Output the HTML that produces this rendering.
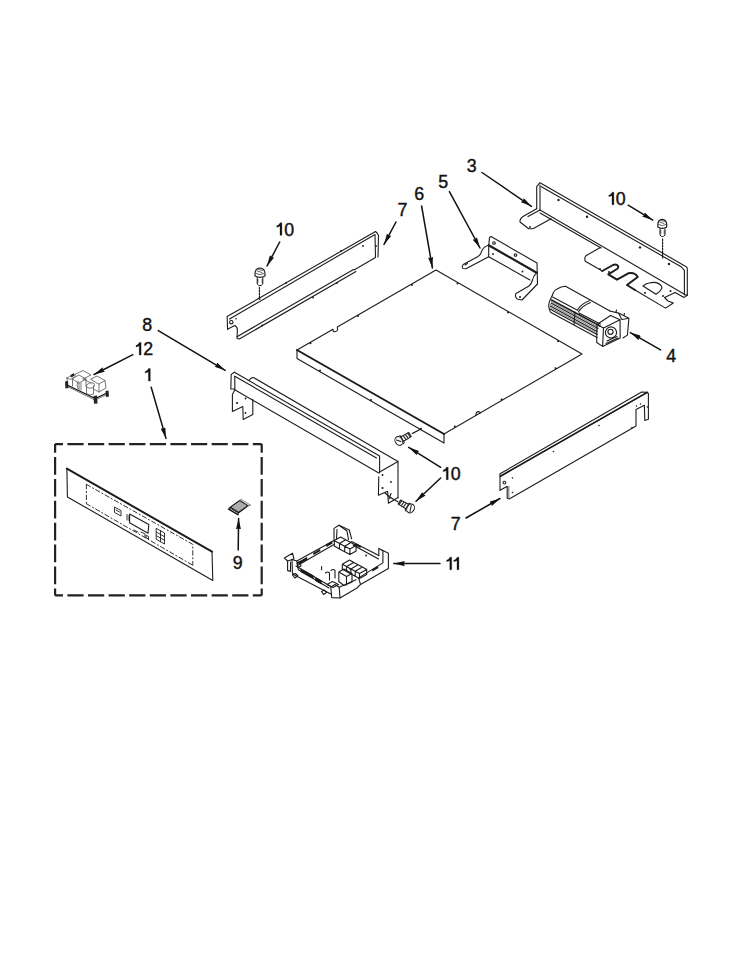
<!DOCTYPE html>
<html><head><meta charset="utf-8">
<style>
html,body{margin:0;padding:0;background:#fff;width:750px;height:970px;overflow:hidden}
svg{display:block}
text{font-family:"Liberation Sans",sans-serif;font-size:17.8px;fill:#111;stroke:#111;stroke-width:0.4px;stroke-linejoin:round;letter-spacing:-0.6px}
</style></head>
<body>
<svg width="750" height="970" viewBox="0 0 750 970">
<defs>
<marker id="ah" viewBox="0 0 11 5" refX="11" refY="2.5" markerWidth="11" markerHeight="5" markerUnits="userSpaceOnUse" orient="auto">
<path d="M0,0 L11,2.5 L0,5 L1,2.5 z" fill="#111" stroke="none"/>
</marker>
</defs>
<g fill="none" stroke="#1c1c1c" stroke-width="1.1" stroke-linejoin="round" stroke-linecap="round">

<!-- ============ PART 6 : panel ============ -->
<g id="p6">
<path d="M297,350 L333,329.3 L333.3,331.2 Q335.5,332.8 337.6,330 L337.3,327 L436,270 L582,354 L444,434"/>
<path d="M297,350 L444,434" stroke-width="2"/>
<path d="M297,350 L297,358.5 L444,443 L444,434"/>
<path d="M476,415.3 L476.2,412.8 Q478,410.8 480,412.3 L480.2,413"/>
</g>
<g id="p6dots" fill="#1c1c1c" stroke="none"><circle cx="310.5" cy="343.3" r="1"/><circle cx="358.0" cy="316.0" r="1"/><circle cx="412.0" cy="284.9" r="1"/><circle cx="457.5" cy="283.5" r="1"/><circle cx="508.0" cy="312.5" r="1"/><circle cx="558.0" cy="341.3" r="1"/><circle cx="555.6" cy="368.2" r="1"/><circle cx="501.6" cy="399.5" r="1"/><circle cx="454.8" cy="426.6" r="1"/><circle cx="320.0" cy="370.6" r="1"/><circle cx="371.0" cy="399.9" r="1"/><circle cx="421.0" cy="428.7" r="1"/></g>

<!-- ============ PART 3 : bracket ============ -->
<g id="p3">
<path d="M536.7,208.7 L536.7,186.7 L540,182.7 L686.2,266.7 L687.3,268 L687.3,295.3 L684.4,294.6"/>
<path d="M540,185 L540,210"/>
<path d="M541,186.5 L681.5,267 L684.4,270.4 L684.4,294.6"/>
<path d="M540,210 L684.4,294.2"/>
<path d="M540,213 L601,248"/>
<path d="M536.7,208.7 L523,216.5 Q519.5,219 520,222 L528.7,228.7 L533,228.7 L551,218.7"/>
<path d="M540,210 L528,216.5"/>
<path d="M600.7,247.3 L586,255.7 Q584,258 585.3,261.3 L602.3,271"/>
<path d="M602.3,271 L613,265 Q617,263.5 618.3,266.5 Q618.5,268 617,269 L608.3,274.3 L617,279.7 L628.3,273.3 Q635,272 637.7,277 L627,285 L635,290" stroke-width="2"/>
<path d="M635,290 L665.5,308.1 L673.3,303 L668,301 L664.5,297.5 L675.2,292.4 L684,297.4 L687.3,295.3"/>
<path d="M643,286 Q646,283.5 649,283 Q654,282 656,282.6 Q661,284 662,287.3 Q661,291 656,294.3 Z"/>
</g>
<g fill="#1c1c1c" stroke="none">
<circle cx="558.5" cy="200" r="1.2"/><circle cx="587" cy="216.7" r="1.2"/><circle cx="640" cy="247.4" r="1.2"/><circle cx="669" cy="264" r="1.2"/>
<circle cx="530" cy="227" r="0.9"/><circle cx="609" cy="272" r="1"/><circle cx="600" cy="269" r="0.9"/><circle cx="645" cy="293" r="1"/><circle cx="663" cy="296" r="1"/><circle cx="670.5" cy="291" r="1"/>
</g>

<!-- ============ PART 5 : bracket ============ -->
<g id="p5">
<path d="M488.8,245 L489.5,237.5 L491,236.5 L537,263 L537.5,284"/>
<path d="M488.7,245.3 L536.7,272.7" stroke-width="2.2"/>
<path d="M488.7,245.3 L488.7,256.7 L530,280"/>
<path d="M488.7,245.3 Q483.5,246.5 481.5,251.5 Q481,254.5 478,256.5 L463.2,264.5 Q461.5,266.5 463,268.5 L466,268.8 L488.7,256.7"/>
<path d="M465,265 L467.5,263.5"/>
<path d="M536.7,272.7 Q533,276.5 532.5,280 Q531.5,284 529,286 L516,293.5 Q514.5,296 517,299 L522,300 L537.5,284"/>
<circle cx="494" cy="243" r="1.3"/><circle cx="515.5" cy="255" r="1.3"/>
</g>
<g fill="#1c1c1c" stroke="none"><circle cx="493" cy="254" r="0.9"/><circle cx="522.5" cy="271.5" r="0.9"/><circle cx="520" cy="297" r="1"/></g>

<!-- ============ PART 4 : blower ============ -->
<g id="p4">
<path d="M552.3,295.4 Q554,290 557.5,288.8 Q561,286.5 565.5,286.2 L610,311"/>
<path d="M552.3,295.4 Q548.5,302 548.7,306 Q549,310.5 550.9,312.6 L597,337.5"/>
<path d="M552.6,297 L577.5,310.2 Q580.5,304 589.3,300.7"/>
<path d="M578.5,311.8 Q582,306 590.5,302.5"/>
<path d="M579,313.1 L600.3,324.1"/>
<path d="M551.5,300 L600,326" stroke-width="1.5"/>
<path d="M551,303 L598,328.5 M550.3,306 L597,331.5 M549.8,309 L597,334.5"/>
<path d="M551,301.5 L598,327 M550.5,304.5 L597.5,330 M550,307.5 L597,333" stroke="#666" stroke-width="0.8"/>
<path d="M575,312 L574,324.5"/>
<path d="M597,324.5 L610.5,315.5 L620,319.8 L603.5,328 Z"/>
<path d="M597,324.5 L596.7,342.5 L602.6,346.4 L620.2,338.1 L620,319.8"/>
<path d="M603.5,328 L602.6,346.4"/>
<path d="M609.8,311 L618.6,313.1 L628.9,318.3 L627.4,335.1 L623,338 M618.6,313.1 L621.5,319 M622,319.5 L628.9,318.3"/>
<path d="M616,312 L616.5,310 M624,315.5 L624.5,313.5"/>
<circle cx="611" cy="332.5" r="5.6"/>
<circle cx="610.5" cy="331.8" r="2.6"/>
<path d="M606,343.5 L618,338 M607,341 L617,336.5"/>
</g>

<!-- ============ PART 7 : top-left rail ============ -->
<g id="p7a">
<path d="M227.6,329.2 L227.1,316.6 L375.5,231.5 L377.5,233.5 L378.5,235.5 L378,257"/>
<path d="M229.5,319 L375,234.5 L375.5,257.5 L354,270"/>
<path d="M227.6,329.2 L234.6,325.5 Q237.4,326.5 237.4,330 L237,338.5 L239.3,339 L356,271.5"/>
<path d="M237,336.7 L353.5,269.5"/>
<circle cx="231.3" cy="322.2" r="1.7"/>
</g>
<g fill="#1c1c1c" stroke="none"><circle cx="363" cy="246" r="0.9"/><circle cx="376" cy="246" r="0.9"/><circle cx="286" cy="283" r="0.9"/><circle cx="341" cy="251" r="0.9"/><circle cx="236" cy="318.7" r="0.8"/><circle cx="259.6" cy="299" r="0.9"/><circle cx="313" cy="297.6" r="0.9"/><circle cx="337" cy="283" r="0.9"/><circle cx="262" cy="325.5" r="0.9"/></g>

<!-- ============ PART 8 : front rail ============ -->
<g id="p8">
<path d="M234.4,372.2 L231.2,374.4 L230.8,389 L234.4,389"/>
<path d="M234.4,372.2 L379.6,456 L379.6,472.8"/>
<path d="M234.8,376.2 L234.8,389.8 L378.8,473"/>
<path d="M234.8,376.2 L376.5,458"/>
<path d="M249.2,380.2 Q251,377 254,377.8 L398,461.6 L398,497.6"/>
<path d="M379.6,472 L398,461.6"/>
<path d="M234.8,389.8 L232.4,394.6 L232.4,411.4 L242.8,406.6 L243.2,419.4 L252.8,414.6 L252.8,399.4"/>
<path d="M378.8,476.8 L378.4,495.2 L387.6,491.2 L388.4,503.2 L398,497.6"/>
</g>
<g fill="#1c1c1c" stroke="none"><circle cx="237" cy="403" r="1.1"/><circle cx="245.5" cy="398.5" r="0.9"/><circle cx="245.5" cy="413" r="0.9"/><circle cx="382.5" cy="488" r="1.1"/><circle cx="391" cy="482" r="0.9"/><circle cx="382.5" cy="475" r="1"/></g>

<!-- ============ PART 7 : right rail ============ -->
<g id="p7b">
<path d="M500,490.2 L500,473.8 L641.6,392 L647.2,392.4"/>
<path d="M500.4,476.2 L647.2,392.4 L648.4,393.5 L648.4,419.2 L644.8,420.4 L644.4,405.2 L636,409.6 L636,426 L635.2,426.4 L509.2,499 L507.2,498.2 L507.2,486.2 L506,487 L500,490.2" />
<path d="M500.4,476.2 L647.2,392.4" stroke-width="1.6"/>
<path d="M508.8,486.5 L508.8,498" stroke="#777"/>
<circle cx="504.4" cy="482.6" r="1.4"/>
</g>
<g fill="#1c1c1c" stroke="none"><circle cx="512.5" cy="478" r="0.8"/><circle cx="512.5" cy="492.5" r="0.8"/><circle cx="553.5" cy="451.5" r="0.8"/><circle cx="599" cy="425.5" r="0.8"/><circle cx="636.5" cy="406" r="0.8"/><circle cx="640.5" cy="404" r="0.8"/><circle cx="647.5" cy="407" r="0.8"/><circle cx="632" cy="427.5" r="0.8"/></g>

<!-- ============ PART 11 : control box ============ -->
<g id="p11">
<path d="M284.4,558 L292.5,553.2 L294,559 L287.6,561 Z"/>
<path d="M287.6,561 L287.6,570.6 L290.4,571.4 L290.6,562"/>
<path d="M292,559.4 L296.8,561 L298.4,569.8 L329,588"/>
<path d="M292,559.4 L292.4,573 L294.4,575 L330.8,594"/>
<path d="M296,566 L330,586"/>
<path d="M292.4,574.8 L295.5,573.5 L297.8,575.5 L295,578 Z"/>
<path d="M321.5,591.5 L324.5,590 L326.5,592.5 L323.5,594.5 Z"/>
<path d="M296.8,561 L334,540.4"/>
<path d="M298.4,565 L334,544.5"/>
<path d="M334,540 L334,528.4 L339,525.2 L349.3,530 L351.6,538.8"/>
<path d="M336.5,539 L337,529.5 M347,531 L348.5,539.5 M339,525.2 L347,531"/>
<path d="M340.5,537.0 L345.7,539.8 L339.5,543.4 L334.3,540.6 Z M334.3,540.6 L334.3,546.1 L339.5,548.9 L339.5,543.4 M345.7,539.8 L350.9,542.6 L344.7,546.2 L339.5,543.4 Z M339.5,543.4 L339.5,548.9 L344.7,551.7 L344.7,546.2 M350.9,542.6 L356.1,545.4 L349.9,549.0 L344.7,546.2 Z M344.7,546.2 L344.7,551.7 L349.9,554.5 L349.9,549.0 M356.1,545.4 L356.1,550.9 L349.9,554.5"/>
<path d="M351.6,541.5 L378.8,555.6"/>
<path d="M353,545 L378.5,559"/>
<path d="M378.8,555.6 L378.8,548.4 L388.4,553.2 L388.4,568.5 L360.5,584.4 L358.6,577.9 L382.9,562.9 L382.9,551 M378.8,548.4 L382.9,551"/>
<path d="M356,579.8 L339.2,587.3 L340,598 L357,588 L360.5,584.4"/>
<path d="M330.8,587.3 L331.7,597.6 L340,598 M330.8,587.3 L335,584.5 L339.2,587.3"/>
<path d="M349.5,560.0 L353.8,562.4 L346.6,566.6 L342.3,564.2 Z M342.3,564.2 L342.3,569.2 L346.6,571.6 L346.6,566.6 M353.8,562.4 L358.1,564.7 L350.9,568.9 L346.6,566.6 Z M346.6,566.6 L346.6,571.6 L350.9,573.9 L350.9,568.9 M358.1,564.7 L362.4,567.1 L355.2,571.3 L350.9,568.9 Z M350.9,568.9 L350.9,573.9 L355.2,576.3 L355.2,571.3 M362.4,567.0 L366.7,569.4 L359.5,573.6 L355.2,571.2 Z M355.2,571.2 L355.2,576.2 L359.5,578.6 L359.5,573.6 M366.7,569.4 L366.7,574.4 L359.5,578.6"/>
<path d="M338.8,572 L344,569 L352,573.5 L352,582 L344,585.5 L338.8,581.5 Z M338.8,572 L346.5,576.5 L352,573.5 M346.5,576.5 L346.5,585"/>
<path d="M321.6,566.6 L321.6,569.8 M325.5,573 Q327.5,571 329.5,573 L329.5,580 M331,570.5 Q333,568.5 335,570.5 L335,578"/>
<path d="M327,584.5 L332.5,581.5 L338.5,584.5 L333,587.5 Z"/>
<path d="M297,563 L300,561.5 L301,566 L298,567.5 Z"/>
</g>
<g fill="#1a1a1a" stroke="none">
<path d="M300.5,568.5 L313.6,575.5 L313.6,579 L300.5,572 Z"/>
<path d="M315.2,577 L321.6,580.5 L321.6,584.5 L315.2,581 Z"/>
<path d="M298,562 L307,557 L307.5,559.5 L298.5,564.5 Z"/>
<path d="M313,553 L320,549 L320.5,551 L313.5,555 Z"/>
<path d="M326,544.5 L332,541 L332.5,543.5 L326.5,547 Z"/>
<path d="M355,543 L361,546 L360.5,548 L354.5,545 Z"/>
<path d="M372,569.5 L378,566 L378.5,568 L372.5,571.5 Z"/>
<circle cx="366" cy="555.5" r="0.9"/><circle cx="350" cy="569" r="0.8"/>
</g>

<!-- ============ PART 12 ============ -->
<g id="p12" stroke="#555" stroke-width="0.8">
<path d="M66,384.5 L95.2,398.5 L107,393" stroke-width="1.3" stroke="#111"/>
<path d="M67.5,386.5 L95,400 L106,395"/>
<path d="M67,378 Q69,375.5 72.5,376 Q74,377 72.5,379 Q69.5,380 67,378 Z M67,378 L67.5,385 M72.5,379 L72.5,386"/>
<path d="M72.5,378.5 L79,375 L86,379 L79,383 Z M79,383 L79,390 M86,379 L86,386"/>
<path d="M75,374.5 L83,370.5 L91,375 L83,379 M75,374.5 L75,377"/>
<path d="M78,381 Q76,385 78,389 M81,383 L81,390"/>
<path d="M86.5,385 Q89.5,381.5 93.5,383 Q95.5,385 93.5,387.5 Q90,389.5 86.5,387 Z M86.5,386 L86.5,393.5 Q90,396.5 93.5,394 L93.5,386"/>
<path d="M91,379 L97,376 L105,380.5 L99,384 Z M105,380.5 L106,388 L99,392 L93.5,389 M99,384 L99,392"/>
<path d="M83,379 L91,383"/>
</g>
<g fill="#222" stroke="none">
<path d="M65,381.5 L68,381 L68.5,388 L65.5,388.5 Z"/><path d="M93.5,396 L97,395.5 L97.5,403.5 L94,403.8 Z"/><path d="M105.5,391 L108.5,390.5 L109,396.5 L106,397 Z"/>
<path d="M70.5,375 L74,373 L74.5,375.5 L71,377.5 Z"/>
</g>

<!-- ============ PART 1 : control panel ============ -->
<g id="p1">
<path d="M66.9,468.6 L212,551.6" stroke-width="2"/>
<path d="M66.9,468.6 L67.4,496.9 L212.8,580.4 L212,551.6"/>
<path d="M86.4,484.4 L192.8,544.4 L192.8,565.2 M86.4,503.7 L192.8,565.2 M86.4,484.4 L86.4,503.7" stroke-dasharray="4.5 2.5 1.2 2.5" stroke="#333" stroke-width="1"/>
<path d="M129.6,514 L148.8,524.4 L148,533.2 L129.6,522.8 Z"/>
<path d="M114.5,507.5 L114.5,512.5 L121,516 L121,511 Z M116,510 L119.5,512" stroke-width="0.9"/>
<path d="M127,514.5 L127,520 M129,515.5 L129,520.5" stroke-width="0.9"/><path d="M146.5,535.5 L148.5,536.5 L148.5,539 L146.5,538 Z" stroke-width="0.9"/>
<path d="M156.5,528.5 L164.5,533 L164.5,544 L156.5,539.5 Z M156.5,532.2 L164.5,536.7 M156.5,535.8 L164.5,540.3 M160.5,530.7 L160.5,541.7" stroke-width="0.9"/>
<path d="M134,530 L138,532 M141,532 L145,534 L145,537" stroke-width="0.9"/>
</g>

<!-- ============ PART 9 ============ -->
<g id="p9">
<path d="M230.3,507.3 L239.7,500.5 L248,505.8 L238.6,512.6 Z" fill="#a8a8a8" stroke="#1a1a1a" stroke-width="1.3"/>
<path d="M228.6,509.2 L237.9,514.6" stroke="#111" stroke-width="1.5"/>
<path d="M229.2,507.6 L238.4,512.9" stroke="#333" stroke-width="1"/>
<path d="M228.6,509.2 L230.3,507.3 M237.9,514.6 L238.6,512.6" stroke-width="1"/>
<path d="M239.7,500.5 L241,499.3 L250.6,505.2 L248,505.8" stroke="#777" stroke-width="0.9"/>
<path d="M233,506.5 L240,502 M235.5,508.3 L243,503.2 M238,510 L245.5,504.8" stroke="#bbb" stroke-width="0.7"/>
</g>

<!-- dashed box -->
<g stroke-width="2.2" stroke-linecap="butt" stroke="#222">
<path d="M55.1,444.1 L261.7,444.1" stroke-dasharray="16.2 4.4" stroke-dashoffset="8.3"/>
<path d="M55.1,595.4 L261.7,595.4" stroke-dasharray="16.2 4.4" stroke-dashoffset="8.3"/>
<path d="M55.1,444.1 L55.1,595.4" stroke-dasharray="17.7 4.2" stroke-dashoffset="9"/>
<path d="M261.7,444.1 L261.7,595.4" stroke-dasharray="17.7 4.2" stroke-dashoffset="9"/>
</g>

<!-- screws -->
<g id="screws">
<path d="M662.6,239 L662.6,258" stroke-dasharray="1.8 1.2" stroke-width="1.2"/>
<path d="M657.8,225 Q657.8,219.6 662.2,219.4 Q666.7,219.6 666.7,225 L666.7,227 Q662.2,229.6 657.8,227 Z" stroke-width="1.2"/>
<path d="M658.5,224.5 Q662.2,227 666,224.5 M659.5,222 L664,223.5 M661,220.5 L665,221.5" stroke-width="0.9" stroke="#555"/>
<path d="M660,228.6 L660,235 Q662.5,238.4 665,235 L665,228.6 M660.2,231 L661,231 M664,231 L664.8,231 M660.2,233 L661,233 M664,233 L664.8,233" stroke-width="1"/>
<path d="M259.4,287.3 L259.4,299" stroke-dasharray="1.8 1.2" stroke-width="1.2"/>
<path d="M255,274 Q255,268.2 260,268 Q265,268.2 265,274 L265,276 Q260,278.6 255,276 Z" stroke-width="1.2"/>
<path d="M255.8,273.5 Q260,276 264.2,273.5 M257,271 L262,272.5 M258.5,269.5 L263,270.5" stroke-width="0.9" stroke="#555"/>
<path d="M257.2,277.6 L257.2,284 Q260,287.4 262.8,284 L262.8,277.6 M257.4,280 L258.2,280 M262,280 L262.6,280 M257.4,282 L258.2,282 M262,282 L262.6,282" stroke-width="1"/>
<!-- mid screws -->
<path d="M412.3,433.5 L421,429" stroke-dasharray="2.5 1" stroke-width="1.3"/>
<g transform="translate(398.8,441) rotate(-30)" stroke-width="1">
<ellipse cx="0" cy="0" rx="3.6" ry="4.6"/>
<path d="M2.5,-4.2 L4,-3.8 L4,4 L2.5,4.6 M-1.5,-2 L1.5,1.5"/>
<path d="M4,-2.6 L13,-2.4 L13,2.4 L4,2.6 M6.5,-2.5 L7,2.5 M9,-2.5 L9.5,2.5 M11.5,-2.5 L12,2.5"/>
</g>
<path d="M390.9,497.8 L398.3,502" stroke-dasharray="2 1" stroke-width="1.2"/>
<path d="M385,493 L391,498 M391,493.5 L389,499"/>
<g transform="translate(410.6,508.5) rotate(30)" stroke-width="1">
<ellipse cx="0" cy="0" rx="3.6" ry="4.6"/>
<path d="M-2.5,-4.2 L-4,-3.8 L-4,4 L-2.5,4.6 M-1,-3 L1,3"/>
<path d="M-4,-2.6 L-13,-2.4 L-13,2.4 L-4,2.6 M-6.5,-2.5 L-7,2.5 M-9,-2.5 L-9.5,2.5 M-11.5,-2.5 L-12,2.5"/>
</g>
</g>

<!-- arrows -->
<g stroke="#111" stroke-width="1.5" marker-end="url(#ah)">
<path d="M482,172.5 L531.4,206.3"/>
<path d="M449.4,191.6 L480,248"/>
<path d="M421.6,206 L432.4,268"/>
<path d="M396,222 L384,244.4"/>
<path d="M628.2,205.2 L652.8,220.2"/>
<path d="M279.7,242 L267,266"/>
<path d="M158.3,330.6 L225.2,370.3"/>
<path d="M132.9,354.7 L94,374.5"/>
<path d="M151.2,387.2 L166,438.4"/>
<path d="M238.2,550.1 L238.6,518.4"/>
<path d="M440,563.6 L393.8,563.6"/>
<path d="M440.7,467.3 L408.7,447.3"/>
<path d="M440.7,478 L416,501.3"/>
<path d="M466,518 L500,498.5"/>
<path d="M660.6,349.9 L630.3,332.6"/>
</g>
</g>

<!-- labels -->
<g>
<text x="466.7" y="171.7">3</text>
<text x="438.2" y="187.6">5</text>
<text x="414.2" y="200.3">6</text>
<text x="397.5" y="216.3">7</text>
<text x="615.8" y="205.0">0</text>
<text x="284.2" y="235.6">0</text>
<text x="450.8" y="480.2">0</text>
<text x="143.2" y="355.0">2</text>
<text x="142.2" y="330.6">8</text>
<text x="666.3" y="362.2">4</text>
<text x="450.7" y="530.0">7</text>
<text x="232.7" y="569.2">9</text>
</g>
<g fill="#111" stroke="#111" stroke-width="0.3" stroke-linejoin="round">
<path transform="translate(612,204.7)" d="M0,0 L0,-9.3 Q-1.2,-8.4 -3.2,-8.1 L-3.2,-9.5 Q-0.9,-10.1 0.2,-12.5 L1.9,-12.5 L1.9,0 Z"/>
<path transform="translate(280,235.3)" d="M0,0 L0,-9.3 Q-1.2,-8.4 -3.2,-8.1 L-3.2,-9.5 Q-0.9,-10.1 0.2,-12.5 L1.9,-12.5 L1.9,0 Z"/>
<path transform="translate(446.3,479.7)" d="M0,0 L0,-9.3 Q-1.2,-8.4 -3.2,-8.1 L-3.2,-9.5 Q-0.9,-10.1 0.2,-12.5 L1.9,-12.5 L1.9,0 Z"/>
<path transform="translate(139.2,355)" d="M0,0 L0,-9.3 Q-1.2,-8.4 -3.2,-8.1 L-3.2,-9.5 Q-0.9,-10.1 0.2,-12.5 L1.9,-12.5 L1.9,0 Z"/>
<path transform="translate(148.4,381.1)" d="M0,0 L0,-9.3 Q-1.2,-8.4 -3.2,-8.1 L-3.2,-9.5 Q-0.9,-10.1 0.2,-12.5 L1.9,-12.5 L1.9,0 Z"/>
<path transform="translate(449.8,569.7)" d="M0,0 L0,-9.3 Q-1.2,-8.4 -3.2,-8.1 L-3.2,-9.5 Q-0.9,-10.1 0.2,-12.5 L1.9,-12.5 L1.9,0 Z"/>
<path transform="translate(457,569.7)" d="M0,0 L0,-9.3 Q-1.2,-8.4 -3.2,-8.1 L-3.2,-9.5 Q-0.9,-10.1 0.2,-12.5 L1.9,-12.5 L1.9,0 Z"/>
</g>
</svg>
</body></html>
